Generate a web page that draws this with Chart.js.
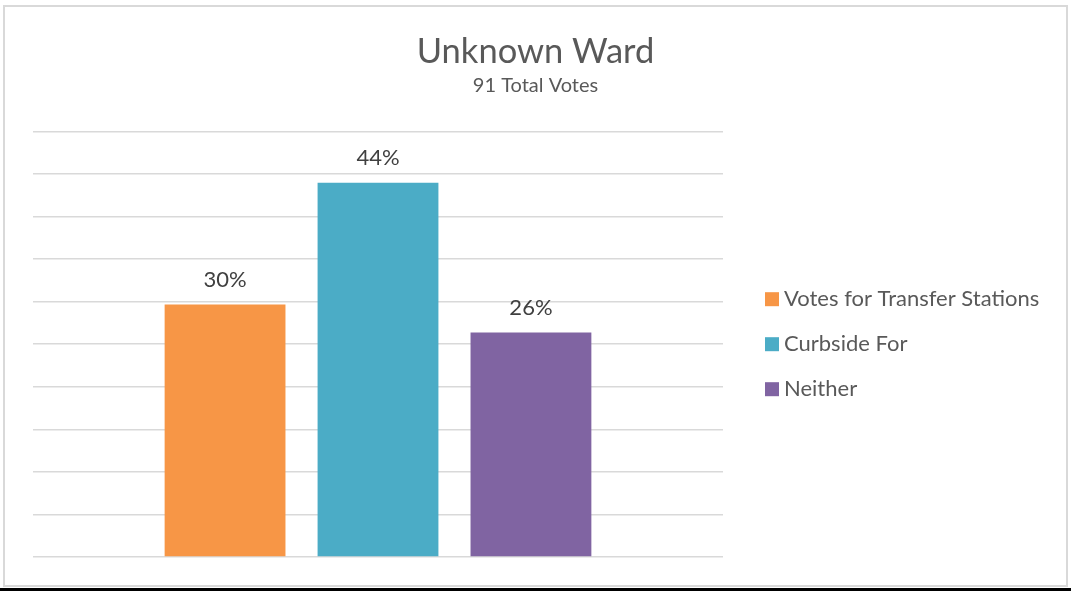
<!DOCTYPE html>
<html>
<head>
<meta charset="utf-8">
<script src="https://cdn.jsdelivr.net/npm/chart.js@4.4.1/dist/chart.umd.min.js"></script>
<style>
  body { margin: 0; background: #fff; }
  #frame { position: absolute; left: 3px; top: 5px; width: 1061px; height: 578px; border: 2px solid #d9d9d9; }
  #frame canvas { display: block; }
  #baseline { position: absolute; left: 0; top: 588px; width: 1071px; height: 3px; background: #000; }
</style>
</head>
<body>
<div id="frame"><canvas id="chart" width="1061" height="578"></canvas></div>
<div id="baseline"></div>
<script>
const seriesNames = ['Votes for Transfer Stations', 'Curbside For', 'Neither'];
const voteCounts = [27, 40, 24];
const totalVotes = 91;
const seriesColors = ['#F79646', '#4BACC6', '#8064A2'];

const font = 'Lato, "Open Sans", sans-serif';

// percent labels over each bar
const barLabels = {
    id: 'barLabels',
    afterDatasetsDraw(chart) {
        const ctx = chart.ctx;
        ctx.save();
        ctx.font = '22px ' + font;
        ctx.fillStyle = '#404040';
        ctx.textAlign = 'center';
        ctx.textBaseline = 'middle';
        chart.data.datasets.forEach((ds, i) => {
            const bar = chart.getDatasetMeta(i).data[0];
            ctx.fillText(Math.round(ds.data[0] * 100) + '%', bar.x, bar.y - 25);
        });
        ctx.restore();
    }
};

// legend to the right of the plot, stacked and centred on it
const sideLegend = {
    id: 'sideLegend',
    afterDraw(chart) {
        const ctx = chart.ctx;
        const area = chart.chartArea;
        const mid = (area.top + area.bottom) / 2;
        const n = chart.data.datasets.length;
        ctx.save();
        ctx.font = '22px ' + font;
        ctx.textBaseline = 'middle';
        ctx.textAlign = 'left';
        chart.data.datasets.forEach((ds, i) => {
            const y = mid + (i - (n - 1) / 2) * 45;
            const x = area.right + 42;
            ctx.fillStyle = ds.backgroundColor;
            ctx.fillRect(x, y - 7, 14, 14);
            ctx.fillStyle = '#595959';
            ctx.fillText(ds.label, x + 19, y);
        });
        ctx.restore();
    }
};

new Chart(document.getElementById('chart').getContext('2d'), {
    type: 'bar',
    data: {
        labels: [''],
        datasets: seriesNames.map((name, i) => ({
            label: name,
            data: [voteCounts[i] / totalVotes],
            backgroundColor: seriesColors[i],
            categoryPercentage: 0.665,
            barPercentage: 0.79
        }))
    },
    options: {
        responsive: false,
        animation: false,
        layout: { padding: { left: 28, right: 28, top: 24, bottom: 28 } },
        scales: {
            x: { display: false },
            y: {
                min: 0,
                max: 0.5,
                ticks: { display: false, stepSize: 0.05 },
                grid: { color: '#d9d9d9', lineWidth: 1.5, drawTicks: false },
                border: { display: false }
            },
            // empty axis that only reserves the room for the legend
            legendRoom: {
                position: 'right',
                ticks: { display: false },
                grid: { display: false },
                border: { display: false },
                afterFit(scale) { scale.width = 315; }
            }
        },
        plugins: {
            title: {
                display: true,
                text: 'Unknown Ward',
                color: '#595959',
                font: { family: font, size: 34.5, weight: 'normal' },
                padding: { top: 0, bottom: 1 }
            },
            subtitle: {
                display: true,
                text: totalVotes + ' Total Votes',
                color: '#595959',
                font: { family: font, size: 20 },
                padding: { top: 0, bottom: 34 }
            },
            legend: { display: false },
            tooltip: { enabled: false }
        }
    },
    plugins: [barLabels, sideLegend]
});
</script>
</body>
</html>
